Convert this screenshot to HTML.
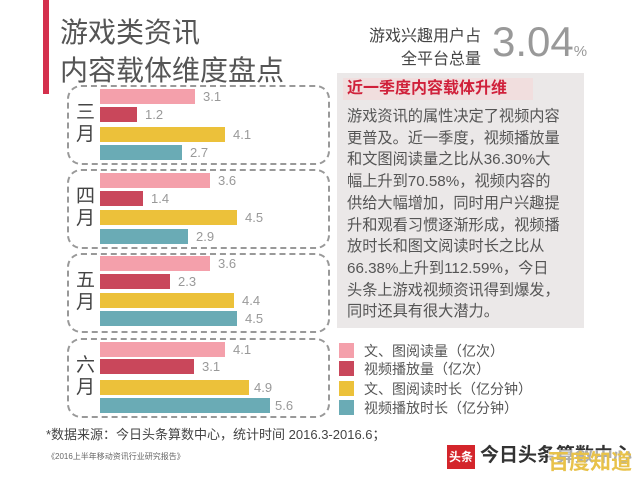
<!DOCTYPE html>
<html><head><meta charset="utf-8"><style>
*{margin:0;padding:0;box-sizing:border-box}
body{width:640px;height:480px;background:#fff;position:relative;overflow:hidden;font-family:"Liberation Sans","Noto Sans CJK SC",sans-serif;color:#555}
.a{position:absolute;white-space:nowrap}
.box{position:absolute;left:67px;width:263px;height:80px;border:2px dashed #999;border-radius:14px}
.bar{position:absolute;left:100px;height:15px}
.v{position:absolute;font-size:13px;color:#999;line-height:15px}
.m{position:absolute;left:76px;font-size:19px;line-height:22px;color:#444;width:20px}
.p{background:#f4a0ab}.r{background:#c9475b}.y{background:#ecc13a}.t{background:#6aabb5}
.lg{position:absolute;left:339px;width:15px;height:15px}
.lt{position:absolute;left:364px;font-size:14px;line-height:16px;color:#555}
.body{position:absolute;left:347px;top:106px;font-size:15.2px;line-height:21.7px;color:#555}
</style></head><body>
<div class="a" style="left:43px;top:0;width:6px;height:94px;background:#d4304d"></div>
<div class="a" style="left:60px;top:14px;font-size:28px;line-height:38px;color:#555">游戏类资讯<br>内容载体维度盘点</div>
<div class="a" style="left:357px;top:25px;font-size:16px;line-height:23px;text-align:right;width:124px;color:#444">游戏兴趣用户占<br>全平台总量</div>
<div class="a" style="left:492px;top:20px;font-size:42px;color:#999;font-weight:300;line-height:44px">3.04<span style="font-size:15px">%</span></div>
<div class="a" style="left:337px;top:73px;width:247px;height:255px;background:#ebe8e8"></div>
<div class="a" style="left:343px;top:78px;width:190px;height:22px;background:#f1dede"></div>
<div class="a" style="left:347px;top:79px;font-size:16px;font-weight:bold;color:#d0203a;line-height:20px">近一季度内容载体升维</div>
<div class="body">游戏资讯的属性决定了视频内容<br>更普及。近一季度，视频播放量<br>和文图阅读量之比从36.30%大<br>幅上升到70.58%，视频内容的<br>供给大幅增加，同时用户兴趣提<br>升和观看习惯逐渐形成，视频播<br>放时长和图文阅读时长之比从<br>66.38%上升到112.59%，今日<br>头条上游戏视频资讯得到爆发，<br>同时还具有很大潜力。</div>

<div class="box" style="top:85px"></div>
<div class="box" style="top:169px"></div>
<div class="box" style="top:253px"></div>
<div class="box" style="top:338px"></div>

<div class="m" style="top:102px">三<br>月</div>
<div class="m" style="top:186px">四<br>月</div>
<div class="m" style="top:270px">五<br>月</div>
<div class="m" style="top:355px">六<br>月</div>

<!-- March -->
<div class="bar p" style="top:89px;width:95px"></div><div class="v" style="left:203px;top:89px">3.1</div>
<div class="bar r" style="top:107px;width:37px"></div><div class="v" style="left:145px;top:107px">1.2</div>
<div class="bar y" style="top:127px;width:125px"></div><div class="v" style="left:233px;top:127px">4.1</div>
<div class="bar t" style="top:145px;width:82px"></div><div class="v" style="left:190px;top:145px">2.7</div>
<!-- April -->
<div class="bar p" style="top:173px;width:110px"></div><div class="v" style="left:218px;top:173px">3.6</div>
<div class="bar r" style="top:191px;width:43px"></div><div class="v" style="left:151px;top:191px">1.4</div>
<div class="bar y" style="top:210px;width:137px"></div><div class="v" style="left:245px;top:210px">4.5</div>
<div class="bar t" style="top:229px;width:88px"></div><div class="v" style="left:196px;top:229px">2.9</div>
<!-- May -->
<div class="bar p" style="top:256px;width:110px"></div><div class="v" style="left:218px;top:256px">3.6</div>
<div class="bar r" style="top:274px;width:70px"></div><div class="v" style="left:178px;top:274px">2.3</div>
<div class="bar y" style="top:293px;width:134px"></div><div class="v" style="left:242px;top:293px">4.4</div>
<div class="bar t" style="top:311px;width:137px"></div><div class="v" style="left:245px;top:311px">4.5</div>
<!-- June -->
<div class="bar p" style="top:342px;width:125px"></div><div class="v" style="left:233px;top:342px">4.1</div>
<div class="bar r" style="top:359px;width:94px"></div><div class="v" style="left:202px;top:359px">3.1</div>
<div class="bar y" style="top:380px;width:149px"></div><div class="v" style="left:254px;top:380px">4.9</div>
<div class="bar t" style="top:398px;width:170px"></div><div class="v" style="left:275px;top:398px">5.6</div>

<div class="lg p" style="top:343px"></div><div class="lt" style="top:343px">文、图阅读量（亿次）</div>
<div class="lg r" style="top:361px"></div><div class="lt" style="top:361px">视频播放量（亿次）</div>
<div class="lg y" style="top:381px"></div><div class="lt" style="top:381px">文、图阅读时长（亿分钟）</div>
<div class="lg t" style="top:400px"></div><div class="lt" style="top:400px">视频播放时长（亿分钟）</div>

<div class="a" style="left:46px;top:424px;font-size:13px;color:#444">*数据来源：今日头条算数中心，统计时间 2016.3-2016.6；</div>
<div class="a" style="left:47px;top:451px;font-size:8px;color:#666">《2016上半年移动资讯行业研究报告》</div>
<div class="a" style="left:447px;top:445px;width:28px;height:24px;background:#d4252b;color:#fff;font-size:12px;font-weight:bold;line-height:24px;text-align:center">头条</div>
<div class="a" style="left:480px;top:444px;font-size:19px;font-weight:bold;color:#333;line-height:24px">今日头条算数中心</div>
<div class="a" style="left:548px;top:450px;font-size:21px;font-weight:bold;color:#e8c24a;line-height:26px;background:rgba(255,255,255,0.6)">百度知道</div>
</body></html>
